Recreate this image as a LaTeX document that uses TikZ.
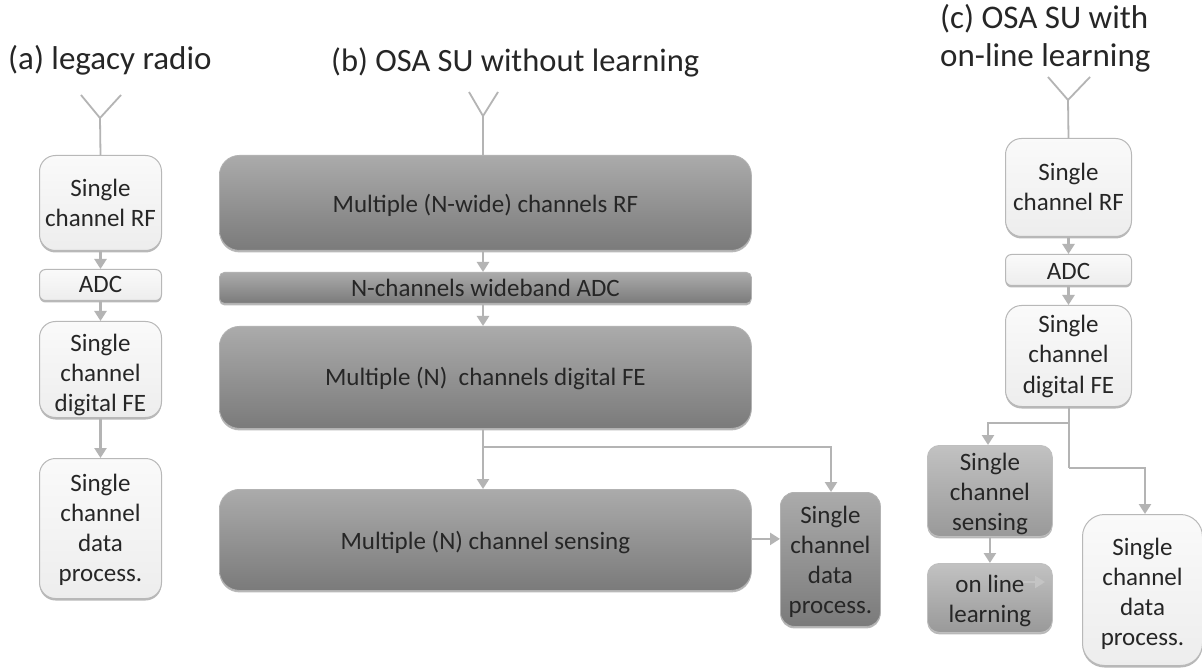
\documentclass[tikz,border=0pt]{standalone}
\usepackage{fontspec}
\setmainfont{Carlito}
\usetikzlibrary{arrows.meta,shadows,positioning}
\definecolor{txt}{HTML}{262626}
\definecolor{conn}{HTML}{B4B4B4}
\definecolor{pale}{HTML}{C4C4C4}
\tikzset{
  x=1pt,y=-1pt,
  base/.style={rounded corners=#1,inner sep=0pt,align=center,text=txt,font=\fontsize{25}{30}\selectfont,
     drop shadow={shadow xshift=0pt,shadow yshift=-2pt,fill=black,opacity=.28}},
  base/.default=14pt,
  lightbox/.style={base=#1,draw=black!28,line width=1pt,top color=white!98!black,bottom color=black!7},
  lightbox/.default=16pt,
  darkbox/.style={base=#1,draw=black!30,line width=.8pt,top color=black!33,bottom color=black!52},
  darkbox/.default=16pt,
  midbox/.style={base=#1,draw=black!25,line width=.8pt,top color=black!24,bottom color=black!40},
  midbox/.default=12pt,
  conline/.style={draw=conn,line width=2.4pt},
  antenna/.style={draw=conn,line width=1.8pt},
  arrowline/.style={conline,-{Triangle[length=10pt,width=12pt,fill=conn]}},
  title/.style={inner sep=0pt,align=left,text=txt,font=\fontsize{#1}{38}\selectfont},
  title/.default=33,
}
\newcommand{\boxat}[7][0]{%
  \node[#2,minimum width=#5pt,minimum height=#6pt,anchor=north west] (#3) at (#4)
    {\raisebox{-#1pt}[\height][\depth]{\begin{tabular}{@{}c@{}}#7\end{tabular}}};}
\begin{document}
\begin{tikzpicture}
\useasboundingbox (0,0) rectangle (1202,668);
\fill[white] (0,0) rectangle (1202,668);
% titles
\node[title,anchor=west] (ta) at (8,60) {(a) legacy radio};
\node[title=32.5,anchor=west] (tb) at (331,62) {(b) OSA SU without learning};
\node[title,anchor=west] (tc) at (940,38) {(c) OSA SU with\\on-line learning};
% column a
\boxat[3]{lightbox}{aRF}{39,155}{122}{95}{Single\\channel RF}
\boxat[2]{lightbox=6pt}{aADC}{39,269}{122}{31}{ADC}
\boxat[6]{lightbox}{aFE}{39,321}{122}{96}{Single\\channel\\digital FE}
\boxat[2]{lightbox}{aDP}{39,458}{122}{140}{Single\\channel\\data\\process.}
% column b
\boxat[4]{darkbox=20pt}{bRF}{219,155}{532}{95}{Multiple (N-wide) channels RF}
\boxat[3]{darkbox=5pt}{bADC}{219,272}{532}{31}{N-channels wideband ADC}
\boxat[2]{darkbox=20pt}{bFE}{219,326}{532}{102}{Multiple (N)\ \ channels digital FE}
\boxat[4]{darkbox=20pt}{bSE}{219,489}{532}{101}{Multiple (N) channel sensing}
\boxat[3]{darkbox=14pt}{bDP}{780,492}{100}{134}{Single\\channel\\data\\process.}
% column c
\boxat[2]{lightbox}{cRF}{1005,138}{126}{98}{Single\\channel RF}
\boxat[3]{lightbox=6pt}{cADC}{1005,254}{126}{31}{ADC}
\boxat[1]{lightbox}{cFE}{1005,305}{126}{101}{Single\\channel\\digital FE}
\boxat[4]{midbox}{cSE}{927,445}{125}{91}{Single\\channel\\sensing}
\boxat[4]{midbox}{cOL}{927,563}{125}{69}{on line\\learning}
\boxat[4]{lightbox=22pt}{cDP}{1082,514}{120}{151}{Single\\channel\\data\\process.}
% antennas
\coordinate (aTip) at (100,118);
\coordinate (aL) at (81,95);
\coordinate (aR) at (121,95);
\coordinate (bTip) at (483,116);
\coordinate (bL) at (469,92);
\coordinate (bR) at (498,92);
\coordinate (cTip) at (1068,100);
\coordinate (cL) at (1048,77);
\coordinate (cR) at (1090,77);
\draw[antenna] (aL) -- (aTip) -- (aR) (aTip) -- (aRF.north);
\draw[antenna] (bL) -- (bTip) -- (bR) (bTip) -- (bTip |- bRF.north);
\draw[antenna] (cL) -- (cTip) -- (cR) (cTip) -- (cRF.north);
% column a connectors
\draw[arrowline] (aRF.south) -- (aADC.north);
\draw[arrowline] (aADC.south) -- (aFE.north);
\draw[arrowline] (aFE.south) -- (aDP.north);
% column b connectors
\draw[arrowline] (bTip |- bRF.south) -- (bTip |- bADC.north);
\draw[arrowline] (bTip |- bADC.south) -- (bTip |- bFE.north);
\draw[arrowline] (bTip |- bFE.south) -- (bTip |- bSE.north);
\coordinate (bJ) at (483,447);
\coordinate (bTurn) at (831,447);
\draw[arrowline] (bJ) -- (bTurn) -- (bTurn |- bDP.north);
\draw[arrowline] (bSE.east) ++(0,-1) coordinate (bO) -- (bO -| bDP.west);
% column c connectors
\draw[arrowline] (cRF.south) -- (cADC.north);
\draw[arrowline] (cADC.south) -- (cFE.north);
\coordinate (cJ) at (1069,406);
\coordinate (cJa) at (1069,423);
\coordinate (cJb) at (1069,468);
\coordinate (cTa) at (988,423);
\coordinate (cTb) at (1145,468);
\draw[conline] (cJ) -- (cJb);
\draw[arrowline] (cJa) -- (cTa) -- (cTa |- cSE.north);
\draw[arrowline] (cJb) -- (cTb) -- (cTb |- cDP.north);
\draw[arrowline] (cSE.south) -- (cOL.north);
\coordinate (cAs) at (1023,582);
\coordinate (cAe) at (1045,582);
\draw[conline,draw=pale,-{Triangle[length=10pt,width=12pt,fill=pale]}] (cAs) -- (cAe);
\end{tikzpicture}
\end{document}
